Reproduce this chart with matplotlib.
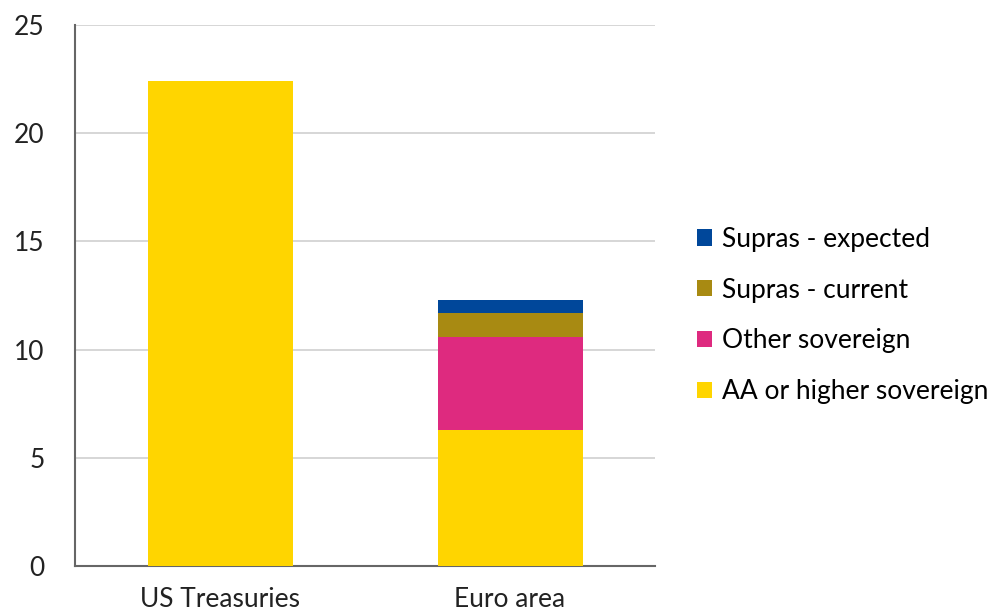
import matplotlib.pyplot as plt
import numpy as np

plt.rcParams["font.family"] = ["Lato", "DejaVu Sans"]

categories = ["US Treasuries", "Euro area"]
series_names = ["AA or higher sovereign", "Other sovereign", "Supras - current", "Supras - expected"]
aa_higher = [22.4, 6.3]
other_sov = [0.0, 4.3]
supras_current = [0.0, 1.1]
supras_expected = [0.0, 0.6]
yticks = [0, 5, 10, 15, 20, 25]

colors = ["#FFD500", "#DE2A7F", "#A88A12", "#00479A"]

fig = plt.figure(figsize=(9.96, 6.14), dpi=100)
ax = fig.add_axes([75 / 996, 1 - 566 / 614, 580 / 996, 541 / 614])

x = np.arange(len(categories))
bottom = np.zeros(len(categories))
handles = []
for name, vals, c in zip(series_names, [aa_higher, other_sov, supras_current, supras_expected], colors):
    vals = np.array(vals)
    b = ax.bar(x, vals, 0.5, bottom=bottom, color=c, label=name, zorder=3)
    handles.append(b)
    bottom += vals

ax.set_xlim(-0.5, 1.5)
ax.set_ylim(0, 25)
ax.set_yticks(yticks)
ax.set_xticks(x)
ax.set_xticklabels(categories)
ax.tick_params(axis="both", length=0, labelsize=19, colors="#222222")
ax.tick_params(axis="y", pad=22)
ax.tick_params(axis="x", pad=15)
ax.grid(axis="y", color="#d0d0d0", linewidth=1.2, zorder=0)
for s in ["top", "right"]:
    ax.spines[s].set_visible(False)
for s in ["left", "bottom"]:
    ax.spines[s].set_color("#666666")
    ax.spines[s].set_linewidth(1.5)

ax.legend(handles[::-1], series_names[::-1], loc="center left",
          bbox_to_anchor=(1.054, 0.463), frameon=False, fontsize=19,
          borderaxespad=0, handlelength=0.57, handleheight=0.57,
          handletextpad=0.38, labelspacing=0.98)

fig.savefig("out.png", dpi=100)
